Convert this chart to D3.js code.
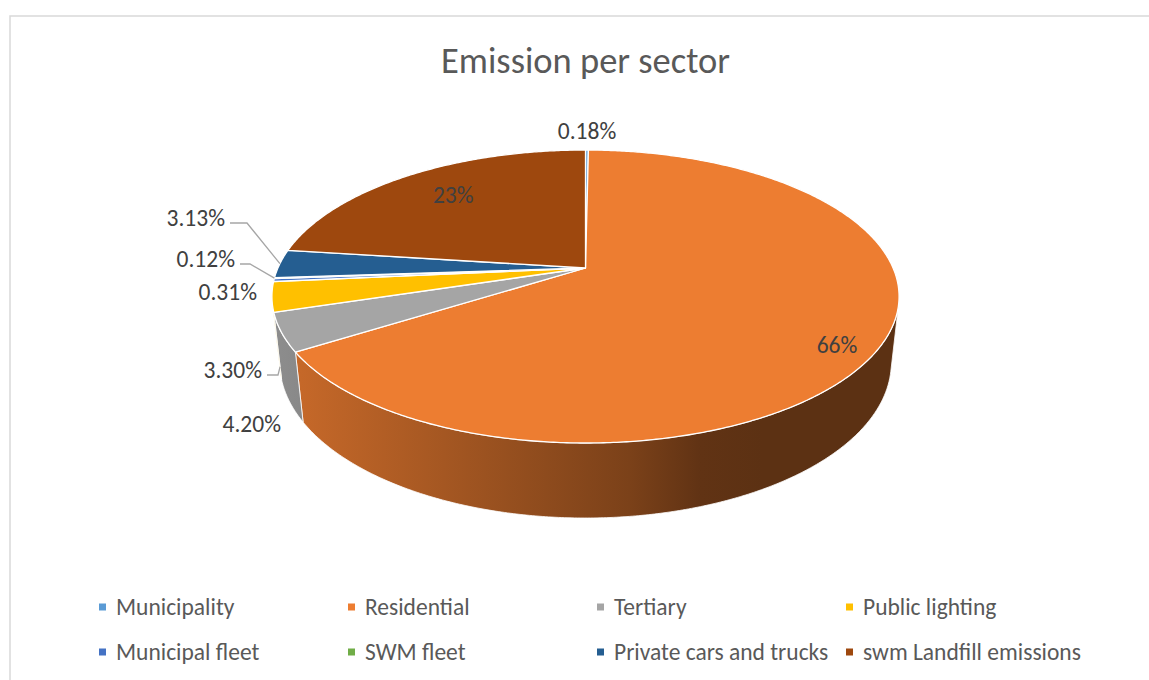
<!DOCTYPE html>
<html>
<head>
<meta charset="utf-8">
<script src="https://cdn.jsdelivr.net/npm/d3@7"></script>
<style>
  body { margin: 0; background: #fff; }
  svg text { font-family: Carlito, Lato, "Open Sans", sans-serif; }
</style>
</head>
<body>
<div id="chart"></div>
<script>
const categories = ["Municipality", "Residential", "Tertiary", "Public lighting",
  "Municipal fleet", "SWM fleet", "Private cars and trucks", "swm Landfill emissions"];
const shares = [0.18, 66, 4.20, 3.30, 0.31, 0.12, 3.13, 23];
const colors = ["#5B9BD5", "#ED7D31", "#A5A5A5", "#FFC000",
  "#4472C4", "#70AD47", "#255E91", "#9E480E"];

const W = 1149, H = 680;

// 3d view of the disc (radius 1, thickness h), perspective camera tilted down
const cx = 585.5, cy = 268;
const f = 1405, D = 4.568, sA = 0.4583, cA = 0.8888, h = 0.2433;

function project(phi, r, y) {
  const x = r * Math.sin(phi), z = r * Math.cos(phi);
  const v = z * sA + y * cA;
  const d = D + z * cA - y * sA;
  return [cx + f * x / d, cy - f * v / d];
}

const svg = d3.select("#chart").append("svg")
  .attr("width", W)
  .attr("height", H);

// chart area border
svg.append("rect")
  .attr("x", 10).attr("y", 16)
  .attr("width", 1200).attr("height", 700)
  .attr("fill", "#fff")
  .attr("stroke", "#d9d9d9")
  .attr("stroke-width", 1.5);

svg.append("text")
  .attr("x", cx).attr("y", 60)
  .attr("dy", "0.35em")
  .attr("text-anchor", "middle")
  .attr("font-size", 36.5)
  .attr("fill", "#595959")
  .text("Emission per sector");

const arcs = d3.pie().sort(null).value(d => d)(shares);

function arcPoints(a0, a1, y) {
  const n = Math.max(2, Math.ceil((a1 - a0) / (Math.PI / 360)));
  return d3.range(n + 1).map(k => project(a0 + (a1 - a0) * k / n, 1, y));
}

// side shading: lighter on the left, dark on the right
const left = project(-Math.PI / 2, 1, 0)[0] - 10;
const right = project(Math.PI / 2, 1, 0)[0] + 10;
const shadeStops = [[0, 0.86], [0.05, 0.83], [0.57, 0.52], [0.68, 0.41], [0.78, 0.39], [1, 0.39]];
const defs = svg.append("defs");
colors.forEach((col, i) => {
  const g = defs.append("linearGradient")
    .attr("id", "side" + i)
    .attr("gradientUnits", "userSpaceOnUse")
    .attr("x1", left).attr("x2", right)
    .attr("y1", 0).attr("y2", 0);
  const base = d3.rgb(col);
  shadeStops.forEach(([t, k]) => {
    g.append("stop")
      .attr("offset", t)
      .attr("stop-color", d3.rgb(base.r * k, base.g * k, base.b * k));
  });
});

// visible part of the rim
const phiV = Math.acos(-1 / (D * cA));
const vis0 = phiV, vis1 = 2 * Math.PI - phiV;

const line = d3.line();

arcs.forEach((a, i) => {
  const a0 = Math.max(a.startAngle, vis0), a1 = Math.min(a.endAngle, vis1);
  if (a1 <= a0) return;
  const top = arcPoints(a0, a1, 0);
  const bottom = arcPoints(a0, a1, -h).reverse();
  svg.append("path")
    .attr("d", line(top.concat(bottom)) + "Z")
    .attr("fill", `url(#side${i})`)
    .attr("stroke", "#fff")
    .attr("stroke-width", 0.8)
    .attr("stroke-linejoin", "round");
});

arcs.forEach((a, i) => {
  const pts = [[cx, cy]].concat(arcPoints(a.startAngle, a.endAngle, 0));
  svg.append("path")
    .attr("d", line(pts) + "Z")
    .attr("fill", colors[i])
    .attr("stroke", "#fff")
    .attr("stroke-width", 1.3)
    .attr("stroke-linejoin", "round");
});

// data labels
const labelSize = 23.5;
const fmt = v => v >= 10 ? d3.format(".0f")(v) + "%" : d3.format(".2f")(v) + "%";
const mid = a => (a.startAngle + a.endAngle) / 2;

const insideLabels = [{ i: 1, r: 0.86, shift: 12 }, { i: 7, r: 0.72, shift: -4 }];
insideLabels.forEach(o => {
  const p = project(mid(arcs[o.i]), o.r, 0);
  svg.append("text")
    .attr("x", p[0]).attr("y", p[1] + o.shift)
    .attr("dy", "0.35em")
    .attr("text-anchor", "middle")
    .attr("font-size", labelSize)
    .attr("fill", "#404040")
    .text(fmt(shares[o.i]));
});

// outside labels, offsets from the pie centre; leader = elbow x and where it hits the pie
const outsideLabels = [
  { i: 0, dx: 1.5, dy: -137, anchor: "middle" },
  { i: 2, dx: -304.5, dy: 156, anchor: "end" },
  { i: 3, dx: -323.5, dy: 102, anchor: "end", elbow: -307.5, target: a => project(a.startAngle, 1, -0.8 * h) },
  { i: 4, dx: -328.5, dy: 24, anchor: "end" },
  { i: 5, dx: -350.5, dy: -9, anchor: "end", elbow: -335.5, target: a => project(mid(a), 1, 0) },
  { i: 6, dx: -360.5, dy: -50, anchor: "end", elbow: -338.5, target: a => project(mid(a), 1, 0) }
];
outsideLabels.forEach(o => {
  const x = cx + o.dx, y = cy + o.dy;
  svg.append("text")
    .attr("x", x).attr("y", y)
    .attr("dy", "0.35em")
    .attr("text-anchor", o.anchor)
    .attr("font-size", labelSize)
    .attr("fill", "#404040")
    .text(fmt(shares[o.i]));
  if (o.elbow !== undefined) {
    const t = o.target(arcs[o.i]);
    const ly = y + 5;
    svg.append("path")
      .attr("d", line([[x + 5, ly], [cx + o.elbow, ly], t]))
      .attr("fill", "none")
      .attr("stroke", "#a6a6a6")
      .attr("stroke-width", 1.3);
  }
});

// legend, 4 columns x 2 rows
const legend = svg.append("g");
categories.forEach((name, i) => {
  const col = i % 4, row = Math.floor(i / 4);
  const x = 99 + col * 249, y = 607 + row * 45;
  legend.append("rect")
    .attr("x", x).attr("y", y - 3.5)
    .attr("width", 7).attr("height", 7)
    .attr("fill", colors[i]);
  legend.append("text")
    .attr("x", x + 17).attr("y", y)
    .attr("dy", "0.35em")
    .attr("font-size", 23.5)
    .attr("fill", "#595959")
    .text(name);
});
</script>
</body>
</html>
